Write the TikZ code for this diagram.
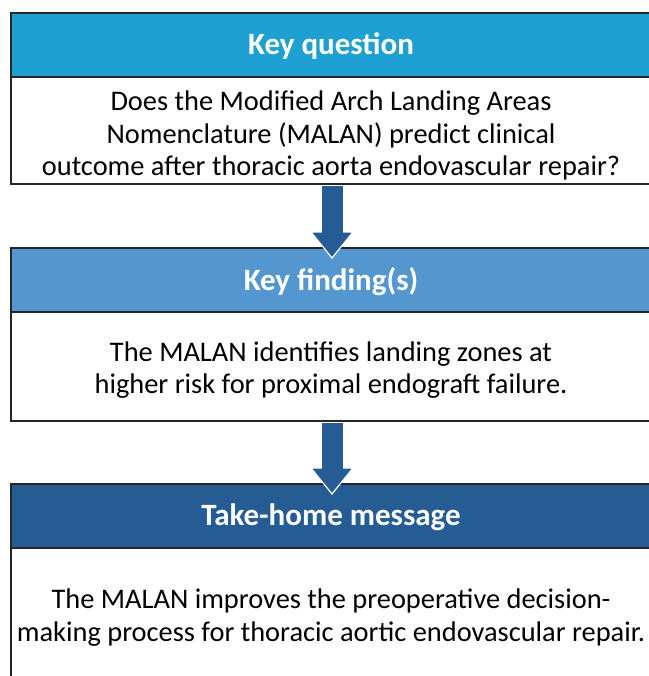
\documentclass[tikz,border=0pt]{standalone}
\usepackage{fontspec}
\setmainfont{Carlito}
\usetikzlibrary{calc}
\definecolor{qblue}{RGB}{30,160,210}
\definecolor{fblue}{RGB}{84,150,207}
\definecolor{mblue}{RGB}{37,92,148}
\definecolor{arrowblue}{RGB}{37,92,150}
\begin{document}
\begin{tikzpicture}[x=1pt,y=-1pt,
  panel/.style={draw=black!85, line width=2pt, fill=white, anchor=north west,
    minimum width=642pt, inner sep=0pt},
  header/.style={panel, minimum height=64pt},
  headtext/.style={text=white, inner sep=0pt,
    font=\fontsize{31}{36}\selectfont\bfseries},
  bodytext/.style={align=center, font=\fontsize{28.4}{32.5}\selectfont,
    inner sep=0pt, text=black},
  shaft/.style={draw=arrowblue, line width=21pt},
  arrowhead/.style={fill=arrowblue, draw=white, line width=1.2pt, line join=miter}]
\useasboundingbox (0,0) rectangle (648,676);
\fill[white] (0,0) rectangle (648,676);

% key question
\node[panel, minimum height=107pt] (b1) at (10,76) {};
\node[header, fill=qblue] (h1) at (10,12) {};
\node[headtext] (l1) at (331,46.5) {Key question};
\node[bodytext] (t1) at (331,135.5) {Does the Modified Arch Landing Areas\\
  Nomenclature (MALAN) predict clinical\\
  outcome after thoracic aorta endovascular repair?};

% key findings
\node[panel, minimum height=109pt] (b2) at (10,311) {};
\node[header, fill=fblue] (h2) at (10,247) {};
\node[headtext] (l2) at (331,281.5) {Key finding(s)};
\node[bodytext] (t2) at (331,370) {The MALAN identifies landing zones at\\
  higher risk for proximal endograft failure.};

% take-home message
\node[panel, minimum height=160pt] (b3) at (10,547) {};
\node[header, fill=mblue] (h3) at (10,483) {};
\node[headtext] (l3) at (331,517.5) {Take-home message};
\node[bodytext] (t3) at (331,617.5) {The MALAN improves the preoperative decision-\\
  making process for thoracic aortic endovascular repair.};

% block arrows between the panels
\filldraw[arrowhead] ($(h2.north)+(0,11)$) -- ++(-21,-26) -- ++(42,0) -- cycle;
\draw[shaft] ($(b1.south)+(0,1)$) -- ($(h2.north)+(0,-14)$);
\filldraw[arrowhead] ($(h3.north)+(0,11)$) -- ++(-21,-26) -- ++(42,0) -- cycle;
\draw[shaft] ($(b2.south)+(0,1)$) -- ($(h3.north)+(0,-14)$);
\end{tikzpicture}
\end{document}
